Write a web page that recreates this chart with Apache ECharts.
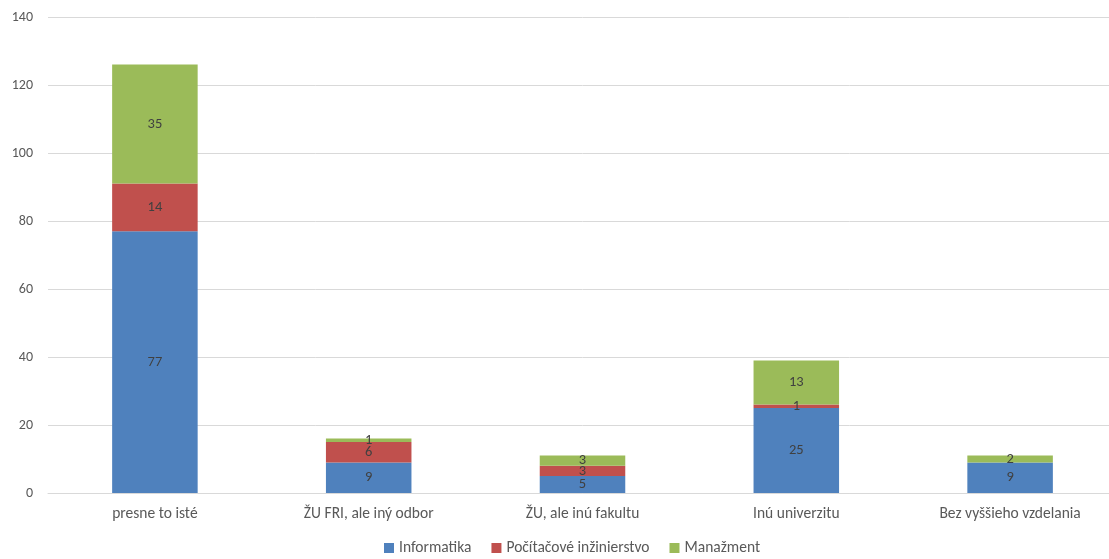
<!DOCTYPE html>
<html><head><meta charset="utf-8">
<script src="https://cdn.jsdelivr.net/npm/echarts@6/dist/echarts.min.js"></script>
<style>html,body{margin:0;padding:0;background:#fff;overflow:hidden}#c{width:1120px;height:559px}</style>
</head><body><div id="c"></div>
<script>
const categories = ["presne to isté", "ŽU FRI, ale iný odbor", "ŽU, ale inú fakultu", "Inú univerzitu", "Bez vyššieho vzdelania"];
const informatika = [77, 9, 5, 25, 9];
const pocitacove = [14, 6, 3, 1, 0];
const manazment = [35, 1, 3, 13, 2];
const seriesNames = ["Informatika", "Počítačové inžinierstvo", "Manažment"];
const colors = ["#4F81BD", "#C0504D", "#9BBB59"];
const font = "Calibri, Carlito, Lato, 'DejaVu Sans', sans-serif";
const lbl = {show: true, position: 'inside', color: '#404040', fontSize: 14.5, fontFamily: font,
  formatter: p => p.value === 0 ? '' : p.value};
const mk = (name, data, i) => ({name, type: 'bar', stack: 'a', data, barWidth: '40%',
  itemStyle: {color: colors[i]}, label: lbl});
const chart = echarts.init(document.getElementById('c'));
chart.setOption({
  animation: false,
  grid: {left: 48, right: 3, top: 17, bottom: 66, containLabel: false},
  legend: {bottom: -2, left: 379, padding: 5, itemWidth: 10, itemHeight: 10, itemGap: 20,
    icon: 'rect', textStyle: {color: '#595959', fontSize: 15.5, fontFamily: font},
    data: seriesNames},
  xAxis: {type: 'category', data: categories,
    axisLine: {lineStyle: {color: '#D9D9D9'}}, axisTick: {show: false},
    axisLabel: {color: '#595959', fontSize: 15.5, fontFamily: font, margin: 13}},
  yAxis: {type: 'value', min: 0, max: 140, interval: 20,
    axisLine: {show: false}, axisTick: {show: false},
    splitLine: {lineStyle: {color: '#D9D9D9'}},
    axisLabel: {color: '#595959', fontSize: 14, fontFamily: font, margin: 15}},
  series: [mk(seriesNames[0], informatika, 0), mk(seriesNames[1], pocitacove, 1), mk(seriesNames[2], manazment, 2)]
});
</script></body></html>
